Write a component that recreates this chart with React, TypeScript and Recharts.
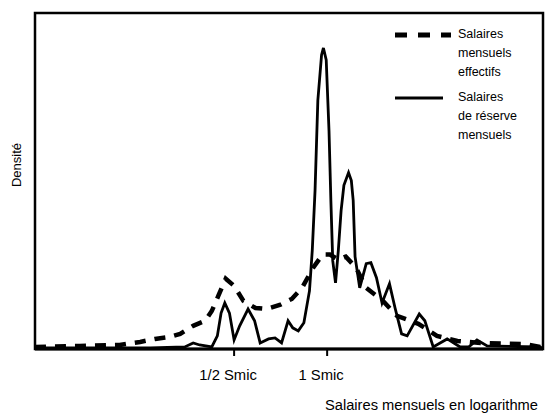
import { LineChart, Line, XAxis, YAxis, ReferenceArea } from 'recharts';

// x: log2(salaire / Smic), y: densité (unités arbitraires)
const reserveX = [
  -3.14, -2.44, -1.9, -1.53, -1.44, -1.37, -1.24, -1.18, -1.14, -1.1, -1.05, -1.0,
  -0.94, -0.85, -0.78, -0.72, -0.63, -0.56, -0.49, -0.42, -0.37, -0.31, -0.25, -0.19,
  -0.16, -0.13, -0.1, -0.06, -0.04, -0.01, 0.02, 0.04, 0.06, 0.09, 0.12, 0.15, 0.18,
  0.23, 0.26, 0.28, 0.3, 0.35, 0.42, 0.47, 0.53, 0.59, 0.67, 0.73, 0.8, 0.86, 0.99,
  1.05, 1.14, 1.29, 1.43, 1.52, 1.61, 1.72, 2.29, 2.32,
];
const reserveY = [
  0.3, 0.3, 0.3, 0.6, 1.8, 1.2, 0.6, 3.9, 10.7, 13.7, 10.7, 2.7,
  6.9, 11.9, 8.4, 1.8, 3.0, 3.3, 1.8, 8.4, 6.3, 5.4, 7.8, 17.3,
  29.3, 47.2, 74, 87.5, 89.6, 86, 65, 44.2, 26.3, 19.7, 29.3, 41.2, 48.7,
  52.5, 50.1, 44.2, 27.5, 18.2, 25.4, 25.7, 21.2, 13.7, 19.4, 12.2, 4.5, 3.9, 10.4,
  8.4, 0.6, 3.0, 0.6, 0.6, 2.7, 0.9, 0.6, 0,
];

const effectifsX = [
  -3.14, -2.66, -2.23, -2.01, -1.85, -1.69, -1.58, -1.44, -1.31, -1.24, -1.17, -1.09,
  -1.0, -0.9, -0.77, -0.65, -0.51, -0.38, -0.27, -0.15, -0.05, 0.03, 0.12, 0.2, 0.31,
  0.42, 0.6, 0.75, 0.98, 1.18, 1.4, 1.65, 2.11, 2.29,
];
const effectifsY = [
  0.6, 0.9, 1.2, 2.1, 3.0, 3.6, 4.5, 6.9, 8.4, 11.3, 15.8, 20.9,
  18.8, 14.3, 12.2, 11.9, 13.1, 14.9, 18.2, 24.2, 28.1, 28.1, 26.6, 27.5, 24.2,
  18.2, 14.3, 9.9, 7.5, 3.9, 2.4, 1.8, 1.5, 0.6,
];

const tickValues = [-1, 0];
const tickLabels = ['1/2 Smic', '1 Smic'];

const legendLabels = [
  ['Salaires', 'mensuels', 'effectifs'],
  ['Salaires', 'de réserve', 'mensuels'],
];

const X_MIN = -3.14;
const X_MAX = 2.32;
const Y_MAX = 100;

const reserveData = reserveX.map((x, i) => ({ x, y: reserveY[i] }));
const effectifsData = effectifsX.map((x, i) => ({ x, y: effectifsY[i] }));

const FONT = '"Liberation Sans", Arial, Helvetica, sans-serif';

const SmicTick = (props: any) => {
  const { x, y, payload } = props;
  const idx = tickValues.indexOf(payload.value);
  return (
    <text x={x - 6} y={y} dy={10} textAnchor="middle" fontSize={14.8} fontFamily={FONT} fill="#000">
      {tickLabels[idx]}
    </text>
  );
};

export default function App() {
  return (
    <div style={{ position: 'absolute', left: 0, top: 0, width: 545, height: 415, background: '#fff' }}>
      <LineChart
        width={545}
        height={415}
        margin={{ top: 13, right: 2, left: 35, bottom: 36 }}
      >
        <XAxis
          type="number"
          dataKey="x"
          domain={[X_MIN, X_MAX]}
          allowDataOverflow
          ticks={tickValues}
          tick={<SmicTick />}
          tickSize={7}
          tickMargin={14}
          height={30}
          axisLine={{ stroke: '#000', strokeWidth: 3 }}
          tickLine={{ stroke: '#000', strokeWidth: 2 }}
        />
        <YAxis type="number" domain={[0, Y_MAX]} hide />
        <ReferenceArea
          x1={X_MIN}
          x2={X_MAX}
          y1={0}
          y2={Y_MAX}
          fill="none"
          stroke="#000"
          strokeWidth={2.5}
          fillOpacity={0}
        />
        <Line
          data={reserveData}
          dataKey="y"
          type="linear"
          stroke="#000"
          strokeWidth={2.8}
          dot={false}
          isAnimationActive={false}
        />
        <Line
          data={effectifsData}
          dataKey="y"
          type="linear"
          stroke="#000"
          strokeWidth={4.5}
          strokeDasharray="11 9"
          dot={false}
          isAnimationActive={false}
        />
      </LineChart>

      {/* legend */}
      <div style={{ position: 'absolute', left: 395, top: 25, fontFamily: FONT, fontSize: 12.5, lineHeight: '19px' }}>
        {legendLabels.map((lines, i) => (
          <div key={i} style={{ display: 'flex', alignItems: 'flex-start', marginBottom: 6 }}>
            <svg width={63} height={19} style={{ flex: 'none' }}>
              {i === 0 ? (
                <line x1={0} x2={56} y1={10} y2={10} stroke="#000" strokeWidth={5} strokeDasharray="12 11" />
              ) : (
                <line x1={0} x2={48} y1={10} y2={10} stroke="#000" strokeWidth={3} />
              )}
            </svg>
            <div>
              {lines.map((l) => (
                <div key={l}>{l}</div>
              ))}
            </div>
          </div>
        ))}
      </div>

      {/* axis titles */}
      <div
        style={{
          position: 'absolute',
          right: 7,
          top: 397,
          fontFamily: FONT,
          fontSize: 14.7,
          whiteSpace: 'nowrap',
        }}
      >
        Salaires mensuels en logarithme
      </div>
      <div
        style={{
          position: 'absolute',
          left: 16,
          top: 165,
          transform: 'translate(-50%, -50%) rotate(-90deg)',
          fontFamily: FONT,
          fontSize: 13,
          whiteSpace: 'nowrap',
        }}
      >
        Densité
      </div>
    </div>
  );
}
